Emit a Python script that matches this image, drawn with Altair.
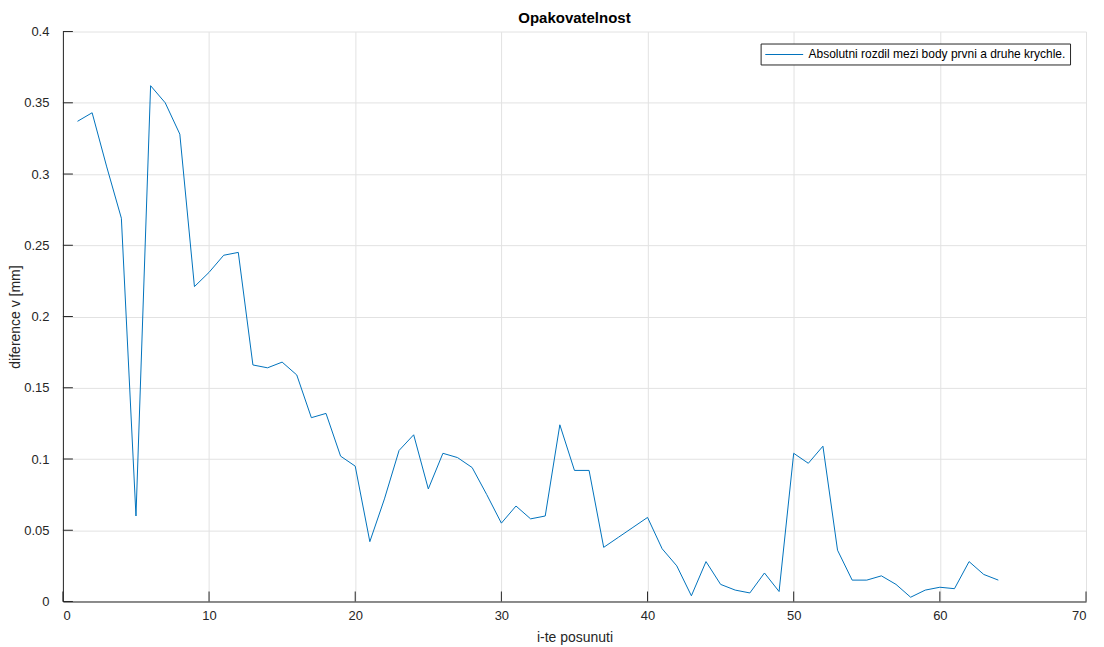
import altair as alt
import pandas as pd

x_vals = list(range(1, 65))
y_vals = [0.337, 0.343, 0.305, 0.269, 0.060, 0.362, 0.350, 0.328, 0.221, 0.231,
          0.243, 0.245, 0.166, 0.164, 0.168, 0.159, 0.129, 0.132, 0.102, 0.095,
          0.042, 0.072, 0.106, 0.117, 0.079, 0.104, 0.101, 0.094, 0.075, 0.055,
          0.067, 0.058, 0.060, 0.124, 0.092, 0.092, 0.038, 0.045, 0.052, 0.059,
          0.037, 0.025, 0.004, 0.028, 0.012, 0.008, 0.006, 0.020, 0.007, 0.104,
          0.097, 0.109, 0.036, 0.015, 0.015, 0.018, 0.012, 0.003, 0.008, 0.010,
          0.009, 0.028, 0.019, 0.015]
series_name = "Absolutni rozdil mezi body prvni a druhe krychle."
x_ticks = [0, 10, 20, 30, 40, 50, 60, 70]
y_ticks = [0, 0.05, 0.1, 0.15, 0.2, 0.25, 0.3, 0.35, 0.4]

W, H = 1025, 571
FONT = "Liberation Sans"
AX = "#262626"

df = pd.DataFrame({"x": x_vals, "y": y_vals, "s": [series_name] * len(x_vals)})
xt = pd.DataFrame({"x": x_ticks})
yt = pd.DataFrame({"y": y_ticks})

xscale = alt.Scale(domain=[0, 70], nice=False)
yscale = alt.Scale(domain=[0, 0.4], nice=False)

line = alt.Chart(df).mark_line(strokeWidth=1).encode(
    x=alt.X("x:Q", scale=xscale,
            axis=alt.Axis(values=x_ticks, title="i-te posunuti", ticks=False,
                          labelPadding=8, titleY=40, titleBaseline="alphabetic",
                          titleFontSize=14)),
    y=alt.Y("y:Q", scale=yscale,
            axis=alt.Axis(values=y_ticks, title="diference v [mm]", ticks=False,
                          labelPadding=14, labelBaseline="middle", format=".2~f",
                          titleX=-40, titleY=H / 2, titleFontSize=14)),
    color=alt.Color("s:N", scale=alt.Scale(domain=[series_name], range=["#0072BD"]),
                    legend=alt.Legend(title=None, orient="none", legendX=699, legendY=12,
                                      symbolType="M-1,0H5", symbolSize=160,
                                      symbolStrokeWidth=1, labelFontSize=12,
                                      labelFont=FONT, labelColor="#000000",
                                      labelLimit=400,
                                      strokeColor=AX, fillColor="white", padding=4,
                                      labelOffset=30)),
)

xtick = alt.Chart(xt).mark_rule(color=AX, strokeWidth=1).encode(
    x=alt.X("x:Q", scale=xscale), y=alt.value(H), y2=alt.value(H - 10)
)
ytick = alt.Chart(yt).mark_rule(color=AX, strokeWidth=1).encode(
    y=alt.Y("y:Q", scale=yscale), x=alt.value(0), x2=alt.value(10)
)

chart = alt.layer(line, xtick, ytick).properties(
    width=W, height=H,
    title=alt.TitleParams("Opakovatelnost", fontSize=15, fontWeight="bold", font=FONT,
                          color="#000000", anchor="middle", offset=0),
    autosize=alt.AutoSizeParams(type="none"),
    padding={"left": 55, "top": 23, "right": 10, "bottom": 45},
).configure_axis(
    labelFont=FONT, titleFont=FONT, labelFontSize=13, labelColor=AX, titleColor=AX,
    titleFontWeight="normal", domainColor=AX, domainWidth=1,
    gridColor="#e2e2e2", gridWidth=1,
).configure_view(stroke=None)

chart.save("out.html", embed_options={"renderer": "svg", "actions": False})
